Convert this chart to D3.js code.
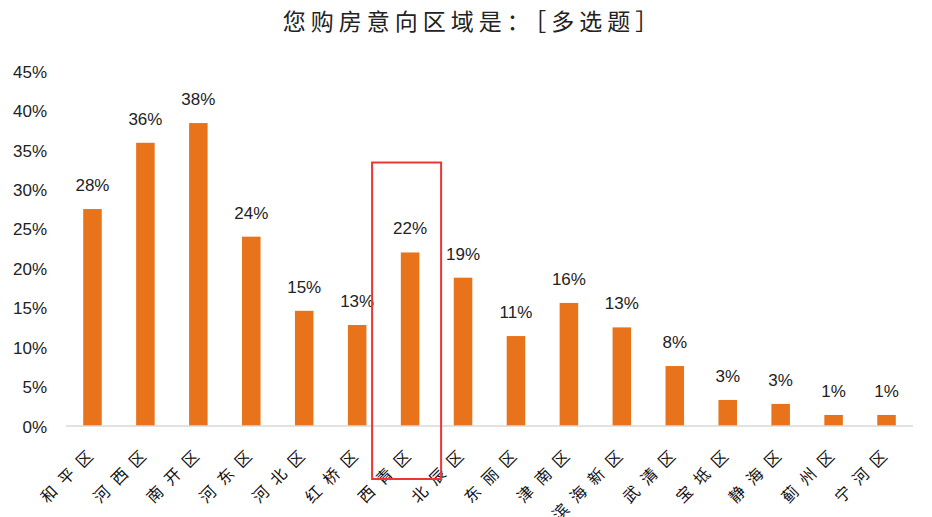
<!DOCTYPE html>
<html>
<head>
<meta charset="utf-8">
<script src="https://cdn.jsdelivr.net/npm/d3@7/dist/d3.min.js"></script>
<style>
  body { margin: 0; background: #fff; }
  svg { display: block; }
</style>
</head>
<body>
<div id="chart"></div>
<script>
// data
var title = "您购房意向区域是：［多选题］";
var districts = ["和平区","河西区","南开区","河东区","河北区","红桥区","西青区","北辰区",
                 "东丽区","津南区","滨海新区","武清区","宝坻区","静海区","蓟州区","宁河区"];
var shares = [27.5, 35.9, 38.4, 24.0, 14.6, 12.8, 22.0, 18.8,
              11.4, 15.6, 12.5, 7.6, 3.3, 2.8, 1.4, 1.4];
var yTicks = [0, 5, 10, 15, 20, 25, 30, 35, 40, 45];
var marked = "西青区";

var width = 932, height = 517;
var svg = d3.select("#chart").append("svg")
  .attr("width", width)
  .attr("height", height);

var x = d3.scaleBand()
  .domain(districts)
  .range([66, 913])
  .paddingInner(0.65)
  .paddingOuter(0.325);

var y = d3.scaleLinear()
  .domain([0, 45])
  .range([426, 71]);

// title
svg.append("text")
  .attr("x", 473)
  .attr("y", 30)
  .attr("text-anchor", "middle")
  .style("font-family", "'Noto Sans CJK SC'")
  .style("font-size", "23px")
  .style("letter-spacing", "5px")
  .style("fill", "#222")
  .text(title);

// y axis labels only
var yAxis = d3.axisLeft(y)
  .tickValues(yTicks)
  .tickSize(0)
  .tickPadding(0)
  .tickFormat(function(d){ return d + "%"; });

var gy = svg.append("g")
  .attr("transform", "translate(47,0)")
  .call(yAxis);
gy.select(".domain").remove();
gy.selectAll("text")
  .attr("dy", "0.36em")
  .style("font-family", "'Liberation Sans', Arial")
  .style("font-size", "17px")
  .style("fill", "#222");

// bars
svg.selectAll("rect.bar")
  .data(shares)
  .enter()
  .append("rect")
  .attr("class", "bar")
  .attr("x", function(d,i){ return x(districts[i]); })
  .attr("y", function(d){ return y(d); })
  .attr("width", x.bandwidth())
  .attr("height", function(d){ return y(0) - y(d); })
  .style("fill", "#E8731A");

// value labels
svg.selectAll("text.val")
  .data(shares)
  .enter()
  .append("text")
  .attr("class", "val")
  .attr("x", function(d,i){ return x(districts[i]) + x.bandwidth()/2; })
  .attr("y", function(d){ return y(d) - 18; })
  .attr("text-anchor", "middle")
  .style("font-family", "'Liberation Sans', Arial")
  .style("font-size", "17px")
  .style("fill", "#222")
  .text(function(d){ return Math.round(d) + "%"; });

// baseline
svg.append("line")
  .attr("x1", x.range()[0])
  .attr("x2", x.range()[1])
  .attr("y1", y(0))
  .attr("y2", y(0))
  .style("stroke", "#d9d9d9")
  .style("stroke-width", 1.5);

// rotated category labels
var xAxis = d3.axisBottom(x).tickSize(0).tickPadding(0);
var gx = svg.append("g")
  .attr("transform", "translate(0," + y(0) + ")")
  .call(xAxis);
gx.select(".domain").remove();
gx.selectAll("text")
  .attr("y", 0)
  .attr("dy", 0)
  .attr("text-anchor", "end")
  .attr("transform", "translate(8,25) rotate(-45)")
  .style("font-family", "'Noto Sans CJK SC'")
  .style("font-size", "16px")
  .style("letter-spacing", "9px")
  .style("fill", "#111");

// red highlight box around one district
var bx = x(marked) + x.bandwidth()/2;
svg.append("rect")
  .attr("x", bx - 38)
  .attr("y", y(33.4))
  .attr("width", 69)
  .attr("height", y(0) + 53 - y(33.4))
  .style("fill", "none")
  .style("stroke", "#EE3535")
  .style("stroke-width", 2);
</script>
</body>
</html>
